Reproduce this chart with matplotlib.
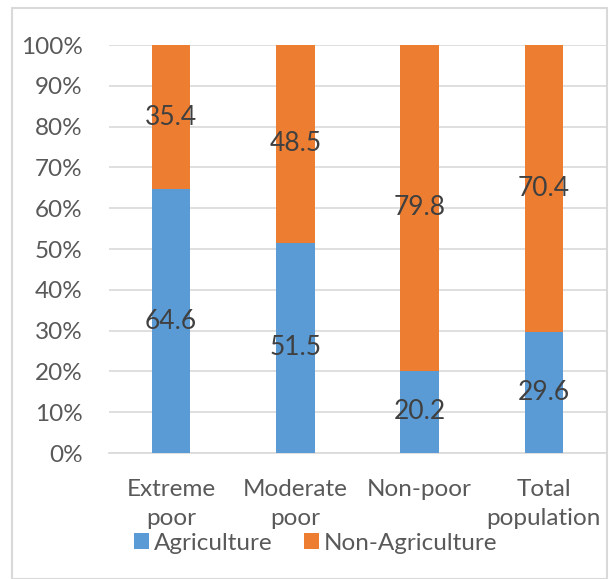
import matplotlib
matplotlib.use("Agg")
import matplotlib.pyplot as plt
from matplotlib.patches import Rectangle

CATEGORIES = ["Extreme\npoor", "Moderate\npoor", "Non-poor", "Total\npopulation"]
AGRICULTURE = [64.6, 51.5, 20.2, 29.6]
NON_AGRICULTURE = [35.4, 48.5, 79.8, 70.4]
YTICKS = [0, 10, 20, 30, 40, 50, 60, 70, 80, 90, 100]

BLUE = "#5b9bd5"
ORANGE = "#ed7d31"
GRID = "#d9d9d9"
TICK = "#595959"
LABEL = "#404040"

plt.rcParams["font.family"] = ["Lato", "DejaVu Sans"]

fig = plt.figure(figsize=(6.13, 5.79), dpi=100)
ax = fig.add_axes([109 / 613, 1 - 453 / 579, (606 - 109) / 613, (453 - 45) / 579])

x = range(len(CATEGORIES))
width = 0.31
ax.bar(x, AGRICULTURE, width, color=BLUE, label="Agriculture", zorder=3)
ax.bar(x, NON_AGRICULTURE, width, bottom=AGRICULTURE, color=ORANGE,
       label="Non-Agriculture", zorder=3)

for i, (a, n) in enumerate(zip(AGRICULTURE, NON_AGRICULTURE)):
    ax.text(i, a / 2, f"{a:.1f}", ha="center", va="center", fontsize=19,
            color=LABEL, zorder=4)
    ax.text(i, a + n / 2, f"{n:.1f}", ha="center", va="center", fontsize=19,
            color=LABEL, zorder=4)

ax.set_xlim(-0.5, 3.5)
ax.set_ylim(0, 100)
ax.set_yticks(YTICKS)
ax.set_yticklabels([f"{t}%" for t in YTICKS])
ax.set_xticks(list(x))
ax.set_xticklabels(CATEGORIES, linespacing=1.45)
ax.tick_params(axis="both", length=0, labelsize=17.5, colors=TICK)
ax.tick_params(axis="x", pad=19)
ax.tick_params(axis="y", pad=19)
ax.grid(axis="y", color=GRID, linewidth=1.2, zorder=0)
for side in ("top", "right", "left"):
    ax.spines[side].set_visible(False)
ax.spines["bottom"].set_color(GRID)
ax.spines["bottom"].set_linewidth(1.2)

leg = fig.legend(loc="center", bbox_to_anchor=(0.515, 1 - 543 / 579), ncol=2,
                 frameon=False, fontsize=17.5, handlelength=0.6,
                 handleheight=0.6, handletextpad=0.2, columnspacing=1.3)
for t in leg.get_texts():
    t.set_color(TICK)

fig.patches.append(Rectangle((12 / 613, 0), (607 - 12) / 613, 1 - 8 / 579,
                             transform=fig.transFigure, fill=False,
                             edgecolor=GRID, linewidth=1.5))

fig.savefig("out.png", dpi=100)
